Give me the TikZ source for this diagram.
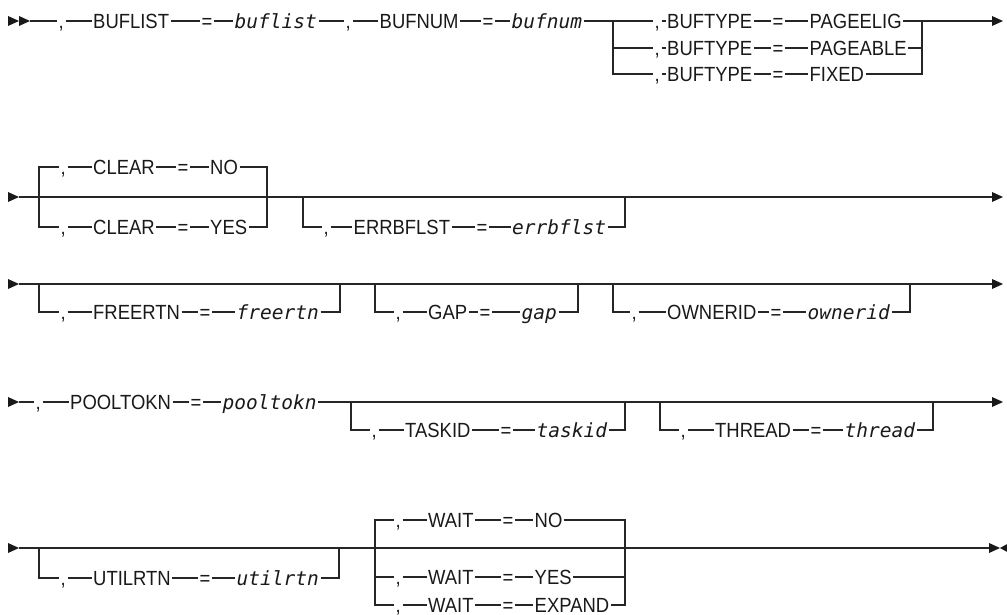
\documentclass[tikz,border=0pt]{standalone}
\usepackage{fontspec}
\setmainfont{Liberation Sans}[FakeStretch=0.9]
\newfontfamily\varfont{DejaVu Sans Mono}
\begin{document}
\begin{tikzpicture}[x=1pt,y=-1pt,
  ln/.style={line width=1.3pt, draw=black!85},
  tok/.style={inner xsep=1.5pt, inner ysep=0pt, text height=14.5pt, text depth=0pt,
              anchor=west, font=\fontsize{20.5}{21}\selectfont, text=black!90},
  var/.style={tok, font=\varfont\itshape\fontsize{19.5}{21}\selectfont},
  tri/.pic={\fill[black!90] (0,-5) -- (11,0) -- (0,5) -- cycle;},
  ltri/.pic={\fill[black!90] (0,0) -- (9,-5) -- (9,5) -- cycle;}
]
\useasboundingbox (0,0) rectangle (1007,615);

% ---------------- Row 1 ----------------
\pic at (8,21) {tri};
\pic at (19,21) {tri};
\coordinate (r1s) at (30,21);
\node[tok] (a1) at (57,21) {,};
\node[tok] (a2) at (91.5,21) {BUFLIST};
\node[tok] (a3) at (200,21) {=};
\node[var] (a4) at (233,21) {buflist};
\node[tok] (a5) at (344,21) {,};
\node[tok] (a6) at (378,21) {BUFNUM};
\node[tok] (a7) at (481,21) {=};
\node[var] (a8) at (510,21) {bufnum};
\coordinate (b1l) at (613,21);
\coordinate (b1r) at (922,21);
\coordinate (r1e) at (992,21);
\foreach \i/\y/\v in {1/21/PAGEELIG,2/48/PAGEABLE,3/74/FIXED}{
  \node[tok] (t\i c) at (653,\y) {,};
  \node[tok] (t\i k) at (665.5,\y) {BUFTYPE};
  \node[tok] (t\i e) at (771,\y) {=};
  \node[tok] (t\i v) at (808,\y) {\v};
}
\draw[ln] (r1s) -- (a1) -- (a2) -- (a3) -- (a4) -- (a5) -- (a6) -- (a7) -- (a8)
          -- (t1c) -- (t1k) -- (t1e) -- (t1v) -- (r1e);
\draw[ln] (b1l) |- (t2c.west);
\draw[ln] (b1l) |- (t3c.west);
\draw[ln] (t2c) -- (t2k) -- (t2e) -- (t2v);
\draw[ln] (t3c) -- (t3k) -- (t3e) -- (t3v);
\draw[ln] (t2v.east) -| (b1r);
\draw[ln] (t3v.east) -| (b1r);
\pic at (r1e) {tri};

% ---------------- Row 2 ----------------
\pic at (8,197) {tri};
\coordinate (r2s) at (19,197);
\coordinate (r2e) at (992,197);
\coordinate (cL) at (39,197);
\coordinate (cR) at (267,197);
\foreach \i/\y/\v in {1/167/NO,2/227/YES}{
  \node[tok] (u\i c) at (59,\y) {,};
  \node[tok] (u\i k) at (91.5,\y) {CLEAR};
  \node[tok] (u\i e) at (176,\y) {=};
  \node[tok] (u\i v) at (208.5,\y) {\v};
  \draw[ln] (cL) |- (u\i c.west);
  \draw[ln] (u\i c) -- (u\i k) -- (u\i e) -- (u\i v);
  \draw[ln] (u\i v.east) -| (cR);
}
\coordinate (eL) at (303,197);
\coordinate (eR) at (625,197);
\node[tok] (e1c) at (322,227) {,};
\node[tok] (e1k) at (352,227) {ERRBFLST};
\node[tok] (e1e) at (475,227) {=};
\node[var] (e1v) at (510.5,227) {errbflst};
\draw[ln] (eL) |- (e1c.west);
\draw[ln] (e1c) -- (e1k) -- (e1e) -- (e1v);
\draw[ln] (e1v.east) -| (eR);
\draw[ln] (r2s) -- (r2e);
\pic at (r2e) {tri};

% ---------------- Row 3 ----------------
\pic at (8,284) {tri};
\coordinate (r3s) at (19,284);
\coordinate (r3e) at (992,284);
\coordinate (fL) at (39,284);
\coordinate (fR) at (340,284);
\node[tok] (f1c) at (59,312) {,};
\node[tok] (f1k) at (91.5,312) {FREERTN};
\node[tok] (f1e) at (198,312) {=};
\node[var] (f1v) at (235,312) {freertn};
\draw[ln] (fL) |- (f1c.west);
\draw[ln] (f1c) -- (f1k) -- (f1e) -- (f1v);
\draw[ln] (f1v.east) -| (fR);
\coordinate (gL) at (375,284);
\coordinate (gR) at (578,284);
\node[tok] (g1c) at (394,312) {,};
\node[tok] (g1k) at (426.5,312) {GAP};
\node[tok] (g1e) at (478,312) {=};
\node[var] (g1v) at (520,312) {gap};
\draw[ln] (gL) |- (g1c.west);
\draw[ln] (g1c) -- (g1k) -- (g1e) -- (g1v);
\draw[ln] (g1v.east) -| (gR);
\coordinate (oL) at (613,284);
\coordinate (oR) at (910,284);
\node[tok] (o1c) at (630,312) {,};
\node[tok] (o1k) at (665.5,312) {OWNERID};
\node[tok] (o1e) at (769,312) {=};
\node[var] (o1v) at (806,312) {ownerid};
\draw[ln] (oL) |- (o1c.west);
\draw[ln] (o1c) -- (o1k) -- (o1e) -- (o1v);
\draw[ln] (o1v.east) -| (oR);
\draw[ln] (r3s) -- (r3e);
\pic at (r3e) {tri};

% ---------------- Row 4 ----------------
\pic at (8,402) {tri};
\coordinate (r4s) at (19,402);
\coordinate (r4e) at (992,402);
\node[tok] (p1c) at (34,402) {,};
\node[tok] (p1k) at (68.5,402) {POOLTOKN};
\node[tok] (p1e) at (189,402) {=};
\node[var] (p1v) at (221,402) {pooltokn};
\draw[ln] (r4s) -- (p1c) -- (p1k) -- (p1e) -- (p1v) -- (r4e);
\coordinate (kL) at (351,402);
\coordinate (kR) at (625,402);
\node[tok] (k1c) at (370,430) {,};
\node[tok] (k1k) at (403.5,430) {TASKID};
\node[tok] (k1e) at (499,430) {=};
\node[var] (k1v) at (535,430) {taskid};
\draw[ln] (kL) |- (k1c.west);
\draw[ln] (k1c) -- (k1k) -- (k1e) -- (k1v);
\draw[ln] (k1v.east) -| (kR);
\coordinate (hL) at (660,402);
\coordinate (hR) at (933,402);
\node[tok] (h1c) at (679,430) {,};
\node[tok] (h1k) at (713.5,430) {THREAD};
\node[tok] (h1e) at (809,430) {=};
\node[var] (h1v) at (843,430) {thread};
\draw[ln] (hL) |- (h1c.west);
\draw[ln] (h1c) -- (h1k) -- (h1e) -- (h1v);
\draw[ln] (h1v.east) -| (hR);
\pic at (r4e) {tri};

% ---------------- Row 5 ----------------
\pic at (8,548) {tri};
\coordinate (r5s) at (19,548);
\coordinate (r5e) at (989,548);
\coordinate (uL) at (39,548);
\coordinate (uR) at (339,548);
\node[tok] (n1c) at (59,578) {,};
\node[tok] (n1k) at (91.5,578) {UTILRTN};
\node[tok] (n1e) at (198,578) {=};
\node[var] (n1v) at (235,578) {utilrtn};
\draw[ln] (uL) |- (n1c.west);
\draw[ln] (n1c) -- (n1k) -- (n1e) -- (n1v);
\draw[ln] (n1v.east) -| (uR);
\coordinate (wL) at (375,548);
\coordinate (wR) at (625,548);
\foreach \i/\y/\v in {1/520/NO,2/577/YES,3/605/EXPAND}{
  \node[tok] (w\i c) at (394,\y) {,};
  \node[tok] (w\i k) at (426.5,\y) {WAIT};
  \node[tok] (w\i e) at (501,\y) {=};
  \node[tok] (w\i v) at (533,\y) {\v};
  \draw[ln] (wL) |- (w\i c.west);
  \draw[ln] (w\i c) -- (w\i k) -- (w\i e) -- (w\i v);
  \draw[ln] (w\i v.east) -| (wR);
}
\draw[ln] (r5s) -- (r5e);
\pic at (r5e) {tri};
\pic at (1000,548) {ltri};
\end{tikzpicture}
\end{document}
